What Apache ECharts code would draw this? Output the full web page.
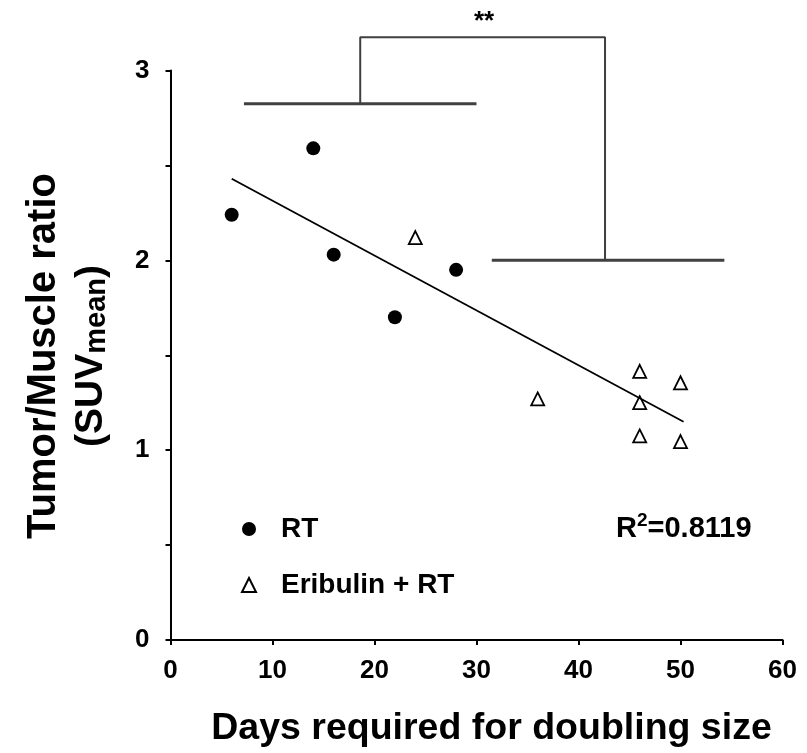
<!DOCTYPE html>
<html>
<head>
<meta charset="utf-8">
<script src="https://cdn.jsdelivr.net/npm/echarts@6/dist/echarts.min.js"></script>
<style>
html,body{margin:0;padding:0;background:#fff;}
#chart{width:807px;height:753px;}
</style>
</head>
<body>
<div id="chart"></div>
<script>
// ---- data ----
var rtX = [6, 14, 16, 22, 28];
var rtY = [2.24, 2.59, 2.03, 1.70, 1.95];
var eriX = [24, 36, 46, 46, 46, 50, 50];
var eriY = [2.12, 1.27, 1.415, 1.25, 1.075, 1.355, 1.045];
var fitX = [6, 50.3];
var fitY = [2.43, 1.15];
// significance bracket (data coordinates)
var bracketLeftX = [7.2, 30.0];
var bracketLeftY = [2.825, 2.825];
var bracketRightX = [31.5, 54.3];
var bracketRightY = [2.0, 2.0];
var bracketTopX = [18.6, 18.6, 42.6, 42.6];
var bracketTopY = [2.825, 3.175, 3.175, 2.0];
var xTicks = [0, 10, 20, 30, 40, 50, 60];
var yTicks = [0, 1, 2, 3];

function zip(a, b) { return a.map(function (v, i) { return [v, b[i]]; }); }

var FONT = '"Liberation Sans", Arial, sans-serif';
var chart = echarts.init(document.getElementById('chart'), null, {renderer: 'canvas'});

var option = {
  animation: false,
  backgroundColor: '#fff',
  grid: {left: 170.5, right: 24.5, top: 70.5, bottom: 112.5, containLabel: false},
  xAxis: {
    type: 'value', min: xTicks[0], max: xTicks[xTicks.length - 1], interval: 10,
    axisLine: {show: true, onZero: false, lineStyle: {color: '#000', width: 2}},
    axisTick: {show: true, length: 5, lineStyle: {color: '#000', width: 2}},
    axisLabel: {color: '#000', fontFamily: FONT, fontWeight: 'bold', fontSize: 26, margin: 18},
    splitLine: {show: false},
    name: 'Days required for doubling size', nameLocation: 'middle', nameGap: 70,
    nameTextStyle: {color: '#000', fontFamily: FONT, fontWeight: 'bold', fontSize: 37.5, padding: [0, 0, 0, 30]}
  },
  yAxis: {
    type: 'value', min: yTicks[0], max: yTicks[yTicks.length - 1], interval: 1,
    axisLine: {show: true, onZero: false, lineStyle: {color: '#000', width: 2}},
    axisTick: {show: true, length: 5, lineStyle: {color: '#000', width: 2}},
    minorTick: {show: true, splitNumber: 2, length: 5, lineStyle: {color: '#000', width: 2}},
    axisLabel: {color: '#000', fontFamily: FONT, fontWeight: 'bold', fontSize: 26, margin: 21},
    splitLine: {show: false}
  },
  legend: {
    orient: 'vertical', left: 236, top: 509, itemGap: 26, itemWidth: 14, itemHeight: 14,
    data: [{name: 'RT'}, {name: 'Eribulin + RT'}],
    textStyle: {color: '#000', fontFamily: FONT, fontWeight: 'bold', fontSize: 28, lineHeight: 30, padding: [0, 0, 0, 20]}
  },
  series: [
    {type: 'line', data: zip(bracketLeftX, bracketLeftY), symbol: 'none', clip: false, silent: true,
     lineStyle: {color: '#404040', width: 3}},
    {type: 'line', data: zip(bracketRightX, bracketRightY), symbol: 'none', clip: false, silent: true,
     lineStyle: {color: '#404040', width: 3}},
    {type: 'line', data: zip(bracketTopX, bracketTopY), symbol: 'none', clip: false, silent: true,
     lineStyle: {color: '#404040', width: 2}},
    {type: 'line', data: zip(fitX, fitY), symbol: 'none', silent: true,
     lineStyle: {color: '#000', width: 1.8}},
    {name: 'RT', type: 'scatter', data: zip(rtX, rtY), symbol: 'circle', symbolSize: 14,
     itemStyle: {color: '#000', opacity: 1}},
    {name: 'Eribulin + RT', type: 'scatter', data: zip(eriX, eriY), symbol: 'triangle', symbolSize: 13,
     itemStyle: {color: '#fff', borderColor: '#000', borderWidth: 1.8, opacity: 1}}
  ],
  graphic: [
    {type: 'text', x: 44, y: 356, rotation: Math.PI / 2,
     style: {text: 'Tumor/Muscle ratio', fill: '#000', font: 'bold 40px ' + FONT, align: 'center', verticalAlign: 'middle'}},
    {type: 'text', x: 90, y: 356, rotation: Math.PI / 2,
     style: {text: '{a|(SUV}{b|mean}{a|)}', align: 'center', verticalAlign: 'middle',
       rich: {a: {fill: '#000', font: 'bold 39px ' + FONT, verticalAlign: 'bottom', lineHeight: 42},
              b: {fill: '#000', font: 'bold 29px ' + FONT, verticalAlign: 'bottom', lineHeight: 36}}}},
    {type: 'text', x: 616, y: 527,
     style: {text: '{a|R}{s|2}{a|=0.8119}', align: 'left', verticalAlign: 'middle',
       rich: {a: {fill: '#000', font: 'bold 29px ' + FONT, verticalAlign: 'bottom', lineHeight: 32},
              s: {fill: '#000', font: 'bold 19px ' + FONT, verticalAlign: 'top', lineHeight: 32}}}},
    {type: 'text', x: 484, y: 22,
     style: {text: '**', fill: '#000', font: 'bold 26px ' + FONT, align: 'center', verticalAlign: 'middle'}}
  ]
};
chart.setOption(option);
</script>
</body>
</html>
